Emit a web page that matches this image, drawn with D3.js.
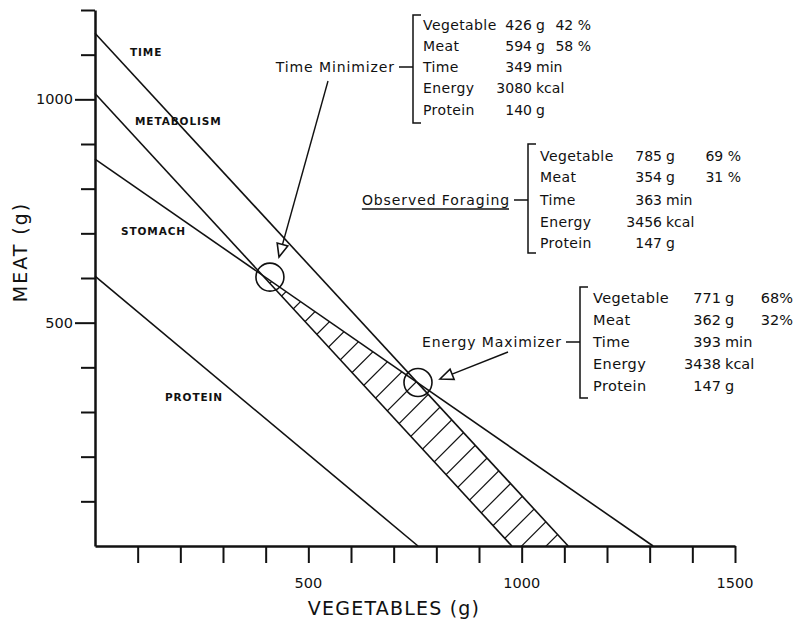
<!DOCTYPE html>
<html>
<head>
<meta charset="utf-8">
<script src="https://cdn.jsdelivr.net/npm/d3@7"></script>
<style>
  body { margin: 0; background: #fff; }
  svg text { font-family: "DejaVu Sans", sans-serif; fill: #111; }
</style>
</head>
<body>
<div id="chart"></div>
<script>
// constraint lines: meat intercept (veg = 0) and vegetable intercept (meat = 0)
var constraintNames = ["TIME", "METABOLISM", "STOMACH", "PROTEIN"];
var meatIntercepts  = [1148, 1013, 866, 604];
var vegIntercepts   = [1109, 977, 1308, 757];

// the two marked optima
var optimumNames = ["Time Minimizer", "Energy Maximizer"];
var optimumVeg   = [410, 757];
var optimumMeat  = [602, 366];

// axis ticks
var xTicks = [100, 200, 300, 400, 500, 600, 700, 800, 900, 1000, 1100, 1200, 1300, 1400, 1500];
var yTicks = [100, 200, 300, 400, 500, 600, 700, 800, 900, 1000, 1100, 1200];
var xTickLabels = [500, 1000, 1500];
var yTickLabels = [500, 1000];

// summary tables
var rowNames = ["Vegetable", "Meat", "Time", "Energy", "Protein"];
var rowUnits = ["g", "g", "min", "kcal", "g"];
var timeMinValues   = ["426", "594", "349", "3080", "140"];
var timeMinPercents = ["42 %", "58 %"];
var observedValues   = ["785", "354", "363", "3456", "147"];
var observedPercents = ["69 %", "31 %"];
var energyMaxValues   = ["771", "362", "393", "3438", "147"];
var energyMaxPercents = ["68%", "32%"];

var W = 796, H = 630;
var svg = d3.select("#chart").append("svg")
    .attr("width", W).attr("height", H);

var x = d3.scaleLinear().domain([0, 1500]).range([95, 735]);
var y = d3.scaleLinear().domain([0, 1200]).range([546, 10]);

// intersection of constraint i and j
function meet(i, j) {
    var ai = meatIntercepts[i], bi = vegIntercepts[i];
    var aj = meatIntercepts[j], bj = vegIntercepts[j];
    var v = (ai - aj) / (ai / bi - aj / bj);
    return [v, ai * (1 - v / bi)];
}

// ---- hatched feasible region
var tm = meet(1, 2), em = meet(0, 2);
var region = [tm, em, [vegIntercepts[0], 0], [vegIntercepts[1], 0]];
svg.append("clipPath").attr("id", "feasible")
   .append("polygon")
   .attr("points", region.map(function (p) { return x(p[0]) + "," + y(p[1]); }).join(" "));

var hatchStep = 24.5, c0 = x(1000) + y(0);
var cs = [];
for (var c = c0 - hatchStep * 30; c < c0 + hatchStep * 4; c += hatchStep) cs.push(c);
svg.append("g").attr("clip-path", "url(#feasible)")
   .selectAll("line").data(cs).enter().append("line")
   .attr("x1", function (d) { return d - 700; }).attr("y1", 700)
   .attr("x2", function (d) { return d; }).attr("y2", 0)
   .attr("stroke", "#111").attr("stroke-width", 1.2);

// ---- constraint lines
svg.append("g").selectAll("line").data(constraintNames).enter().append("line")
   .attr("x1", x(0)).attr("y1", function (d, i) { return y(meatIntercepts[i]); })
   .attr("x2", function (d, i) { return x(vegIntercepts[i]); }).attr("y2", y(0))
   .attr("stroke", "#111").attr("stroke-width", 1.6);

var labelPos = [[130, 56], [135, 125], [121, 235], [165, 401]];
svg.append("g").selectAll("text").data(constraintNames).enter().append("text")
   .attr("x", function (d, i) { return labelPos[i][0]; })
   .attr("y", function (d, i) { return labelPos[i][1]; })
   .attr("font-size", 10.5).attr("font-weight", "bold").attr("letter-spacing", 0.9)
   .text(function (d) { return d; });

// ---- axes
var yAxis = d3.axisLeft(y).tickValues(yTicks).tickSize(14).tickSizeOuter(0).tickFormat("");
var xAxis = d3.axisBottom(x).tickValues(xTicks).tickSize(17).tickSizeOuter(0).tickFormat("");
var gy = svg.append("g").attr("transform", "translate(" + x(0) + ",0)").call(yAxis);
var gx = svg.append("g").attr("transform", "translate(0," + y(0) + ")").call(xAxis);
[gy, gx].forEach(function (g) {
    g.select(".domain").attr("stroke", "#111").attr("stroke-width", 2.5);
    g.selectAll(".tick line").attr("stroke", "#111").attr("stroke-width", 2);
});
gy.selectAll(".tick line").filter(function (d) { return yTickLabels.indexOf(d) >= 0; }).attr("x2", -20);

svg.append("g").selectAll("text").data(yTickLabels).enter().append("text")
   .attr("x", 73).attr("y", function (d) { return y(d) + 5; })
   .attr("text-anchor", "end").attr("font-size", 14.5).text(function (d) { return d; });
svg.append("g").selectAll("text").data(xTickLabels).enter().append("text")
   .attr("x", function (d) { return x(d); }).attr("y", 588)
   .attr("text-anchor", "middle").attr("font-size", 14.5).text(function (d) { return d; });

svg.append("text").attr("x", 394).attr("y", 615).attr("text-anchor", "middle")
   .attr("font-size", 19).attr("letter-spacing", 1.2).text("VEGETABLES (g)");
svg.append("text").attr("transform", "translate(27,252) rotate(-90)").attr("text-anchor", "middle")
   .attr("font-size", 19).attr("letter-spacing", 2).text("MEAT (g)");

// ---- optimum circles
svg.append("g").selectAll("circle").data(optimumNames).enter().append("circle")
   .attr("cx", function (d, i) { return x(optimumVeg[i]); })
   .attr("cy", function (d, i) { return y(optimumMeat[i]); })
   .attr("r", 14).attr("fill", "none").attr("stroke", "#111").attr("stroke-width", 1.6);

// arrows with open triangular heads
function arrow(x1, y1, x2, y2) {
    var a = Math.atan2(y2 - y1, x2 - x1), len = 13, hw = 5.5;
    var bx = x2 - len * Math.cos(a), by = y2 - len * Math.sin(a);
    var px = -Math.sin(a) * hw, py = Math.cos(a) * hw;
    svg.append("line").attr("x1", x1).attr("y1", y1).attr("x2", bx).attr("y2", by)
       .attr("stroke", "#111").attr("stroke-width", 1.4);
    svg.append("polygon")
       .attr("points", [[x2, y2], [bx + px, by + py], [bx - px, by - py]].join(" "))
       .attr("fill", "#fff").attr("stroke", "#111").attr("stroke-width", 1.6);
}
arrow(328, 81, 279, 257);
arrow(508, 352, 440, 379);

// ---- summary tables
function table(cfg) {
    var g = svg.append("g");
    var fs = cfg.fontSize || 14;
    g.append("path")
     .attr("d", "M" + (cfg.bx + 8) + "," + cfg.top + "H" + cfg.bx + "V" + cfg.bottom + "H" + (cfg.bx + 8) +
                "M" + (cfg.bx - 14) + "," + cfg.mid + "H" + cfg.bx)
     .attr("fill", "none").attr("stroke", "#111").attr("stroke-width", 1.5);
    var lab = g.append("text").attr("x", cfg.bx - 18).attr("y", cfg.mid + 5)
     .attr("text-anchor", "end").attr("font-size", 14).attr("letter-spacing", 0.9).text(cfg.title);
    if (cfg.underline) {
        var bb = lab.node().getBBox();
        g.append("line").attr("x1", bb.x).attr("x2", bb.x + bb.width - 1)
         .attr("y1", cfg.mid + 9).attr("y2", cfg.mid + 9).attr("stroke", "#111").attr("stroke-width", 1.3);
    }
    rowNames.forEach(function (name, i) {
        var ry = cfg.rows[i] + 5;
        g.append("text").attr("x", cfg.textX).attr("y", ry).attr("font-size", fs)
         .attr("letter-spacing", 0.4).text(name);
        g.append("text").attr("x", cfg.numX).attr("y", ry).attr("font-size", fs)
         .attr("text-anchor", "end").text(cfg.values[i]);
        g.append("text").attr("x", cfg.numX + 4).attr("y", ry).attr("font-size", fs).text(rowUnits[i]);
        if (i < cfg.percents.length) {
            g.append("text").attr("x", cfg.pctX).attr("y", ry).attr("font-size", fs)
             .attr("text-anchor", "end").text(cfg.percents[i]);
        }
    });
}
table({ title: "Time Minimizer", bx: 413, top: 15, bottom: 123, mid: 67, textX: 423,
        rows: [25, 46, 67, 88, 110], numX: 532, pctX: 591,
        values: timeMinValues, percents: timeMinPercents });
table({ title: "Observed Foraging", bx: 528, top: 144, bottom: 253, mid: 200, underline: true, textX: 540,
        rows: [156, 177, 200, 222, 243], numX: 662, pctX: 741,
        values: observedValues, percents: observedPercents });
table({ title: "Energy Maximizer", bx: 580, top: 287, bottom: 398, mid: 342, textX: 593,
        rows: [298, 320, 342, 364, 386], numX: 721, pctX: 793, fontSize: 14.5,
        values: energyMaxValues, percents: energyMaxPercents });
</script>
</body>
</html>
